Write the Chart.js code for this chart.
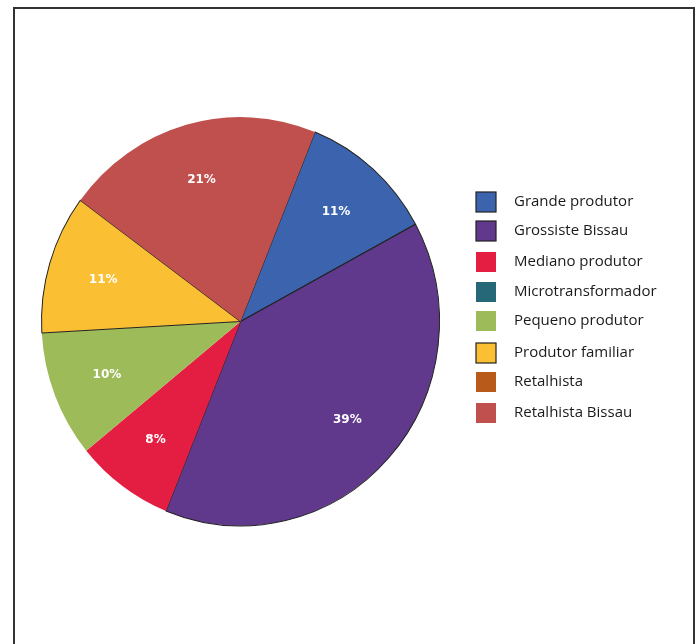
<!DOCTYPE html>
<html>
<head>
<meta charset="utf-8">
<script src="https://cdn.jsdelivr.net/npm/chart.js@4/dist/chart.umd.min.js"></script>
<style>
    html, body { margin: 0; padding: 0; background: #fff; }
    #wrap { position: relative; width: 698px; height: 644px; }
</style>
</head>
<body>
<div id="wrap"><canvas id="pieChart" width="698" height="644"></canvas></div>
<script>
const categories = ['Grande produtor', 'Grossiste Bissau', 'Mediano produtor', 'Microtransformador',
    'Pequeno produtor', 'Produtor familiar', 'Retalhista', 'Retalhista Bissau'];
const shares = [11, 39, 8, 0, 10, 11, 0, 21];
const colors = ['#3C64AE', '#61398C', '#E41E43', '#266878', '#9EBB59', '#FBBF33', '#B85B1A', '#C0504D'];
const outlined = [true, true, false, false, false, true, false, false];

// legend rows (y of each row centre) - the original spacing is a bit uneven
const legendRows = [202, 231, 262, 292, 321, 353, 382, 413];

// the original pie is a touch taller than wide
const stretchY = 1.027;

// frame around the figure (open at the bottom)
const framePlugin = {
    id: 'frame',
    beforeDraw(chart) {
        const ctx = chart.ctx;
        ctx.save();
        ctx.strokeStyle = '#333';
        ctx.lineWidth = 2;
        ctx.beginPath();
        ctx.moveTo(14, 644);
        ctx.lineTo(14, 8);
        ctx.lineTo(694, 8);
        ctx.lineTo(694, 644);
        ctx.stroke();
        ctx.restore();
    }
};

const stretchPlugin = {
    id: 'stretch',
    beforeDatasetsDraw(chart) {
        const arc = chart.getDatasetMeta(0).data[0];
        const ctx = chart.ctx;
        ctx.save();
        ctx.translate(0, arc.y);
        ctx.scale(1, stretchY);
        ctx.translate(0, -arc.y);
    },
    afterDatasetsDraw(chart) {
        chart.ctx.restore();
    }
};

// white percentage text inside each slice
const pctPlugin = {
    id: 'pctLabels',
    afterDatasetsDraw(chart) {
        const ctx = chart.ctx;
        const meta = chart.getDatasetMeta(0);
        ctx.save();
        ctx.font = 'bold 12px "DejaVu Sans"';
        ctx.fillStyle = '#fff';
        ctx.textAlign = 'center';
        ctx.textBaseline = 'middle';
        meta.data.forEach((arc, i) => {
            if (!shares[i]) return;
            const p = arc.getProps(['x', 'y', 'startAngle', 'endAngle', 'outerRadius'], true);
            const mid = (p.startAngle + p.endAngle) / 2;
            const r = p.outerRadius * 0.72;
            ctx.fillText(shares[i] + '%', p.x + Math.cos(mid) * r, p.y + Math.sin(mid) * r * stretchY);
        });
        ctx.restore();
    }
};

// legend on the right, drawn by hand to match the boxes
const legendPlugin = {
    id: 'sideLegend',
    afterDraw(chart) {
        const ctx = chart.ctx;
        ctx.save();
        ctx.font = '15px "Open Sans"';
        ctx.textBaseline = 'middle';
        ctx.textAlign = 'left';
        categories.forEach((name, i) => {
            const y = legendRows[i];
            ctx.fillStyle = colors[i];
            ctx.fillRect(476, y - 10, 20, 20);
            if (outlined[i]) {
                ctx.strokeStyle = '#222';
                ctx.lineWidth = 1.2;
                ctx.strokeRect(476, y - 10, 20, 20);
            }
            ctx.fillStyle = '#1a1a1a';
            ctx.fillText(name, 514, y);
        });
        ctx.restore();
    }
};

new Chart(document.getElementById('pieChart'), {
    type: 'pie',
    data: {
        labels: categories,
        datasets: [{
            data: shares,
            backgroundColor: colors,
            borderColor: outlined.map(o => o ? '#222' : 'rgba(0,0,0,0)'),
            borderWidth: outlined.map(o => o ? 1 : 0)
        }]
    },
    options: {
        responsive: false,
        animation: false,
        rotation: 22,
        layout: { padding: { left: 41, top: 122, right: 258, bottom: 123 } },
        plugins: {
            legend: { display: false },
            tooltip: { enabled: false }
        }
    },
    plugins: [framePlugin, stretchPlugin, pctPlugin, legendPlugin]
});
</script>
</body>
</html>
